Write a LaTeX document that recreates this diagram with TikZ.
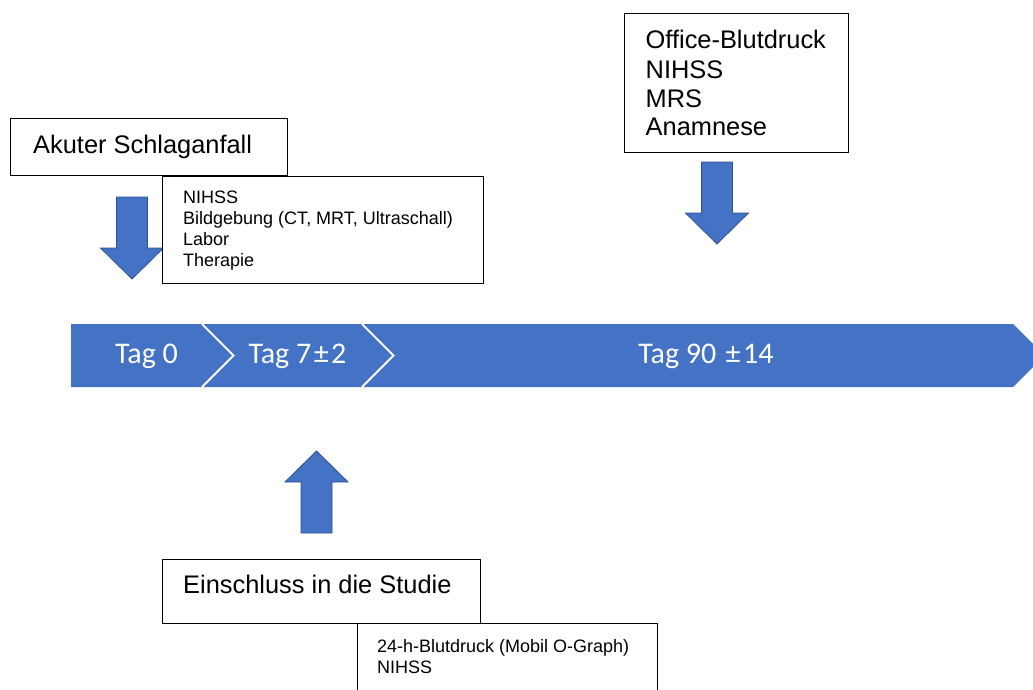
\documentclass[tikz,border=0pt]{standalone}
\usepackage{fontspec}
\setmainfont{Liberation Sans}
\newfontfamily\tagfont{Carlito}
\definecolor{tlblue}{HTML}{4472C4}
\definecolor{tledge}{HTML}{2F528F}
\newcommand\plusminus{\kern2.5pt±\kern2.5pt}
\tikzset{
  infobox/.style={draw=black, line width=1.2pt, fill=white, rectangle, inner sep=0pt, anchor=north west},
  bigtext/.style={anchor=base west, inner sep=0pt, font=\fontsize{25.4}{30}\selectfont},
  smalltext/.style={anchor=base west, inner sep=0pt, font=\fontsize{18}{21}\selectfont},
  taglabel/.style={anchor=base, inner sep=0pt, text=white, font=\tagfont\fontsize{30}{34}\selectfont},
  pics/blockarrow/.style={code={
    \filldraw[fill=tlblue, draw=tledge, line width=0.8pt, line join=miter]
      (-15.5,0) -- (15.5,0) -- (15.5,51) -- (31.5,51) -- (0,82)
      -- (-31.5,51) -- (-15.5,51) -- cycle;
  }}
}
\begin{document}
\begin{tikzpicture}[x=1pt, y=-1pt]
\useasboundingbox (0,0) rectangle (1033,689);
\clip (0,0) rectangle (1033,689);

% timeline band with chevron separators
\fill[tlblue] (71,324) -- (1013,324) -- (1044.5,355.5) -- (1013,387) -- (71,387) -- cycle;
\draw[white, line width=2pt, line join=miter] (202,324) -- (233.5,355.5) -- (202,387);
\draw[white, line width=2pt, line join=miter] (362,324) -- (393.5,355.5) -- (362,387);
\node[taglabel] (t0)  at (146.5,363) {Tag 0};
\node[taglabel] (t7)  at (297.5,363) {Tag 7\plusminus 2};
\node[taglabel] (t90) at (706,363)   {Tag 90 \plusminus 14};

% block arrows pointing at the timeline
\pic at (132,197) {blockarrow};
\pic at (717,162) {blockarrow};
\pic[rotate=180] at (316.5,533) {blockarrow};

% acute stroke
\node[infobox, minimum width=277pt, minimum height=57pt] (akut) at (10,118) {};
\node[bigtext] (akutT) at (33,153) {Akuter Schlaganfall};
\node[infobox, minimum width=321pt, minimum height=107pt] (erst) at (162,176) {};
\foreach \txt/\yy [count=\i] in {NIHSS/203, Bildgebung (CT{,} MRT{,} Ultraschall)/224, Labor/245, Therapie/266}
  \node[smalltext] (erst\i) at (183,\yy) {\txt};

% day 90 follow-up
\node[infobox, minimum width=224pt, minimum height=139pt] (office) at (624,13) {};
\foreach \txt/\yy [count=\i] in {Office-Blutdruck/48, NIHSS/78.5, MRS/107, Anamnese/135}
  \node[bigtext] (office\i) at (645.5,\yy) {\txt};

% study inclusion
\node[infobox, minimum width=318pt, minimum height=64pt] (ein) at (162,559) {};
\node[bigtext] (einT) at (183,593) {Einschluss in die Studie};
\node[infobox, minimum width=300pt, minimum height=90pt] (abdm) at (357,623) {};
\node[smalltext] (abdm1) at (377,652) {24-h-Blutdruck (Mobil O-Graph)};
\node[smalltext] (abdm2) at (377,673) {NIHSS};
\end{tikzpicture}
\end{document}
